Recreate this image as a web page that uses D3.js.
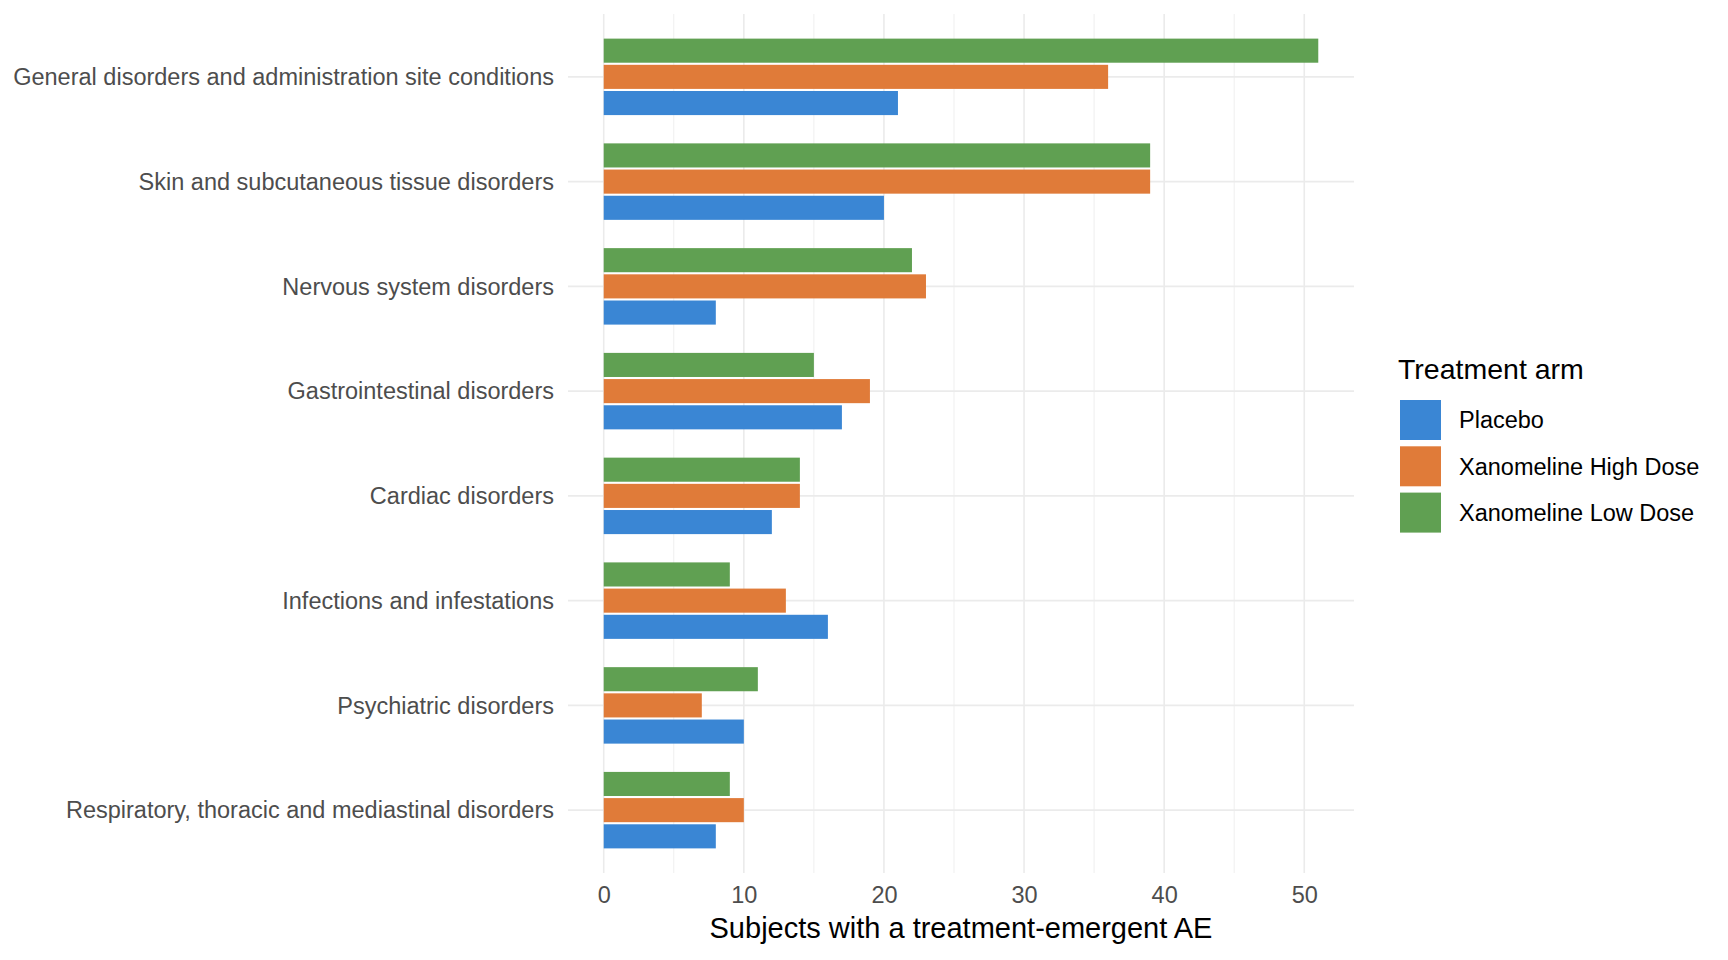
<!DOCTYPE html>
<html lang="en">
<head>
	<meta charset="utf-8">
	<title>Treatment-emergent AEs</title>
	<style>
		body { margin: 0; background: #fff; }
		text { font-family: "Liberation Sans", Arial, sans-serif; }
		.grid-major line { stroke: #ebebeb; stroke-width: 1.6px; }
		.grid-minor line { stroke: #ebebeb; stroke-width: 0.8px; }
		.axis-text { fill: #4d4d4d; font-size: 23.5px; }
	</style>
</head>
<body>
	<div id="chart"></div>

	<script src="https://cdnjs.cloudflare.com/ajax/libs/d3/7.8.5/d3.min.js"></script>
	<script>
		// body systems, top to bottom
		var categories = [
			"General disorders and administration site conditions",
			"Skin and subcutaneous tissue disorders",
			"Nervous system disorders",
			"Gastrointestinal disorders",
			"Cardiac disorders",
			"Infections and infestations",
			"Psychiatric disorders",
			"Respiratory, thoracic and mediastinal disorders"
		];

		// legend order
		var arms = ["Placebo", "Xanomeline High Dose", "Xanomeline Low Dose"];

		var placebo  = [21, 20,  8, 17, 12, 16, 10,  8];
		var highDose = [36, 39, 23, 19, 14, 13,  7, 10];
		var lowDose  = [51, 39, 22, 15, 14,  9, 11,  9];

		var xTicks = [0, 10, 20, 30, 40, 50];
		var xMinor = [5, 15, 25, 35, 45];

		var colors = ["#3a86d4", "#e07b39", "#60a052"];

		var width = 1728,
		    height = 960;

		var svg = d3.select("#chart")
			.append("svg")
			.attr("width", width)
			.attr("height", height);

		var x = d3.scaleLinear()
			.domain([-2.55, 53.55])
			.range([568, 1354]);

		var y = d3.scalePoint()
			.domain(categories)
			.range([14, 873])
			.padding(0.6);

		var step = y.step();

		// bars inside each category: low dose on top, placebo at the bottom
		var dodge = d3.scaleBand()
			.domain(["Xanomeline Low Dose", "Xanomeline High Dose", "Placebo"])
			.range([-0.365 * step, 0.365 * step])
			.paddingInner(0.08);

		var color = d3.scaleOrdinal()
			.domain(arms)
			.range(colors);

		var rows = [];
		categories.forEach(function(c, i) {
			rows.push({cat: c, arm: "Placebo", n: placebo[i]});
			rows.push({cat: c, arm: "Xanomeline High Dose", n: highDose[i]});
			rows.push({cat: c, arm: "Xanomeline Low Dose", n: lowDose[i]});
		});

		// grid
		svg.append("g")
			.attr("class", "grid-minor")
		  .selectAll("line")
			.data(xMinor)
		  .enter().append("line")
			.attr("x1", function(d) { return x(d); })
			.attr("x2", function(d) { return x(d); })
			.attr("y1", 14)
			.attr("y2", 873);

		svg.append("g")
			.attr("class", "grid-major")
		  .selectAll("line.v")
			.data(xTicks)
		  .enter().append("line")
			.attr("class", "v")
			.attr("x1", function(d) { return x(d); })
			.attr("x2", function(d) { return x(d); })
			.attr("y1", 14)
			.attr("y2", 873);

		svg.select(".grid-major")
		  .selectAll("line.h")
			.data(categories)
		  .enter().append("line")
			.attr("class", "h")
			.attr("x1", 568)
			.attr("x2", 1354)
			.attr("y1", function(d) { return y(d); })
			.attr("y2", function(d) { return y(d); });

		// bars
		svg.append("g")
		  .selectAll("rect")
			.data(rows)
		  .enter().append("rect")
			.attr("x", x(0))
			.attr("y", function(d) { return y(d.cat) + dodge(d.arm); })
			.attr("width", function(d) { return x(d.n) - x(0); })
			.attr("height", dodge.bandwidth())
			.attr("fill", function(d) { return color(d.arm); });

		// y axis labels
		svg.append("g")
		  .selectAll("text")
			.data(categories)
		  .enter().append("text")
			.attr("class", "axis-text")
			.attr("x", 554)
			.attr("y", function(d) { return y(d); })
			.attr("dy", "0.35em")
			.attr("text-anchor", "end")
			.text(function(d) { return d; });

		// x axis
		var xAxis = svg.append("g")
			.attr("transform", "translate(0,873)")
			.call(d3.axisBottom(x).tickValues(xTicks).tickSize(0).tickPadding(13));
		xAxis.select(".domain").remove();
		xAxis.selectAll("text")
			.attr("class", "axis-text")
			.attr("fill", null)
			.style("font-family", null)
			.style("font-size", null);

		svg.append("text")
			.attr("x", x(25.5))
			.attr("y", 928)
			.attr("dy", "0.35em")
			.attr("text-anchor", "middle")
			.style("font-size", "29px")
			.attr("fill", "#000")
			.text("Subjects with a treatment-emergent AE");

		// legend
		var legend = svg.append("g")
			.attr("transform", "translate(1398,0)");

		legend.append("text")
			.attr("x", 0)
			.attr("y", 369)
			.attr("dy", "0.35em")
			.style("font-size", "28.5px")
			.attr("fill", "#000")
			.text("Treatment arm");

		var item = legend.selectAll("g.item")
			.data(arms)
		  .enter().append("g")
			.attr("class", "item")
			.attr("transform", function(d, i) { return "translate(2," + (400 + i * 46.3) + ")"; });

		item.append("rect")
			.attr("width", 41)
			.attr("height", 40)
			.attr("fill", function(d) { return color(d); });

		item.append("text")
			.attr("x", 59)
			.attr("y", 20)
			.attr("dy", "0.35em")
			.style("font-size", "23.5px")
			.attr("fill", "#000")
			.text(function(d) { return d; });
	</script>
</body>
</html>
